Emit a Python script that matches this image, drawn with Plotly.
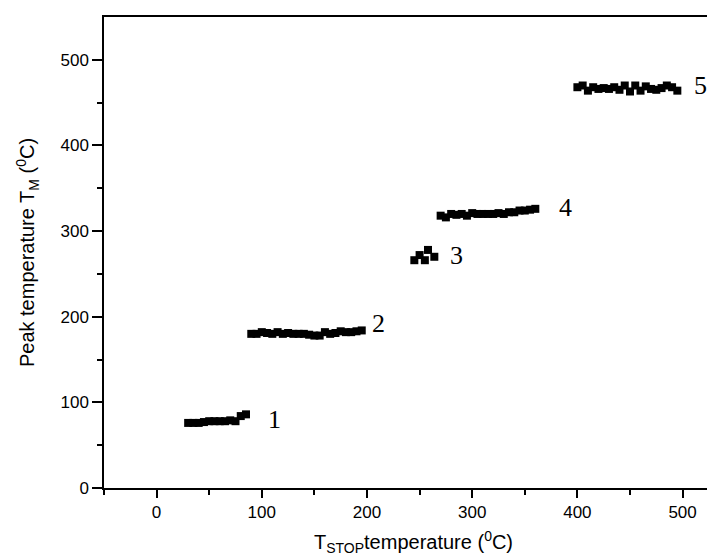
import plotly.graph_objects as go

# cluster 1
x1 = [30, 35, 40, 45, 50, 55, 60, 65, 70, 75, 80, 85]
y1 = [76, 76, 76, 77, 78, 78, 78, 78, 79, 78, 84, 86]
# cluster 2
x2 = [90, 95, 100, 105, 110, 115, 120, 125, 130, 135, 140, 145, 150, 155, 160, 165, 170, 175, 180, 185, 190, 195]
y2 = [180, 180, 182, 181, 180, 182, 180, 181, 180, 180, 180, 179, 178, 178, 182, 180, 181, 183, 182, 182, 183, 184]
# cluster 3
x3 = [245, 250, 255, 258, 264]
y3 = [266, 272, 266, 278, 270]
# cluster 4
x4 = [270, 275, 280, 285, 290, 295, 300, 305, 310, 315, 320, 325, 330, 335, 340, 345, 350, 355, 360]
y4 = [318, 316, 320, 319, 320, 318, 321, 320, 320, 320, 320, 321, 320, 322, 322, 324, 324, 325, 326]
# cluster 5
x5 = [400, 405, 410, 415, 420, 425, 430, 435, 440, 445, 450, 455, 460, 465, 470, 475, 480, 485, 490, 495]
y5 = [468, 470, 464, 468, 466, 467, 466, 468, 465, 470, 463, 470, 464, 469, 466, 465, 467, 470, 468, 464]

labels = ["1", "2", "3", "4", "5"]
label_x = [112, 211, 285, 389, 517]
label_y = [80, 192, 272, 327, 470]

xs = x1 + x2 + x3 + x4 + x5
ys = y1 + y2 + y3 + y4 + y5

fig = go.Figure()
fig.add_trace(go.Scatter(
    x=xs, y=ys, mode="markers",
    marker=dict(symbol="square", size=8, color="black", line=dict(width=0)),
    showlegend=False,
))

for t, lx, ly in zip(labels, label_x, label_y):
    fig.add_annotation(x=lx, y=ly, text=t, showarrow=False,
                       font=dict(family="Liberation Serif", size=26, color="black"))

axis_font = dict(family="Liberation Sans", size=17, color="black")
title_font = dict(family="Liberation Sans", size=20, color="black")
fig.update_layout(
    width=715, height=559,
    margin=dict(l=96, r=0, t=9, b=79),
    plot_bgcolor="white", paper_bgcolor="white",
    font=dict(family="Liberation Sans", color="black"),
    xaxis=dict(
        range=[-50, 538.4], tickvals=[0, 100, 200, 300, 400, 500],
        showline=True, linecolor="black", linewidth=1.5, mirror=True,
        ticks="outside", ticklen=8, tickwidth=1.5, tickcolor="black",
        minor=dict(tickvals=[-50, 50, 150, 250, 350, 450], ticks="outside", ticklen=5, tickwidth=1.5, tickcolor="black"),
        showgrid=False, zeroline=False, tickfont=axis_font, automargin=False,
        title=dict(text="T<sub>STOP</sub>temperature (<sup>0</sup>C)",
                   font=title_font, standoff=14),
    ),
    yaxis=dict(
        range=[0, 550], tickvals=[0, 100, 200, 300, 400, 500],
        showline=True, linecolor="black", linewidth=1.5, mirror=False,
        ticks="outside", ticklen=10, tickwidth=1.5, tickcolor="black",
        minor=dict(tickvals=[50, 150, 250, 350, 450], ticks="outside", ticklen=5, tickwidth=1.5, tickcolor="black"),
        showgrid=False, zeroline=False, tickfont=axis_font, automargin=False,
        title=dict(text="Peak temperature T<sub>M</sub> (<sup>0</sup>C)",
                   font=title_font, standoff=20),
    ),
)

fig.write_html("out.html")
